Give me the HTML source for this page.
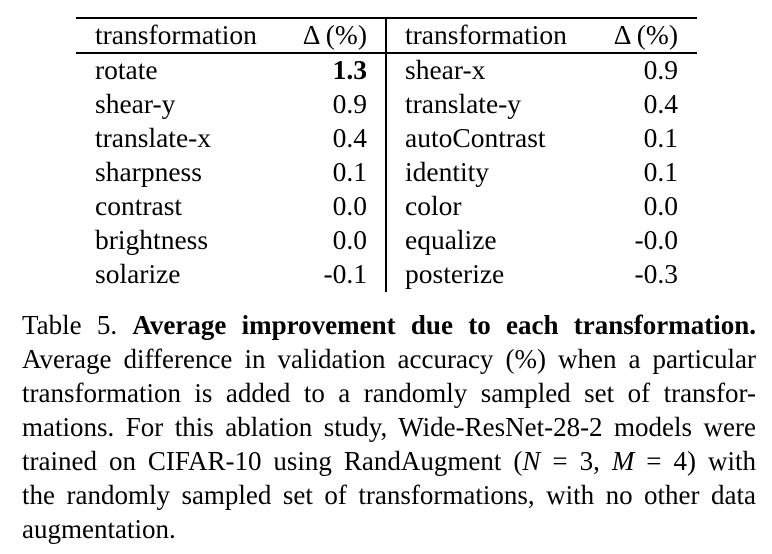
<!DOCTYPE html>
<html><head><meta charset="utf-8"><style>
body{margin:0;width:772px;height:554px;background:#fff;position:relative;font-family:"Liberation Serif","Times New Roman",serif;color:#000;overflow:hidden}
.t{position:absolute;font-size:27.5px;line-height:34px;white-space:nowrap}
.r{text-align:right}
.hl{position:absolute;background:#000;height:2px}
.c{position:absolute;left:22px;width:734px;font-size:27px;line-height:34px;text-align:justify;text-align-last:justify;white-space:nowrap}
.c.l{text-align-last:left}
i{font-style:italic}
</style></head><body>
<div class="hl" style="left:76px;top:17px;width:621px"></div>
<div class="hl" style="left:76px;top:52px;width:621px;height:1.5px"></div>
<div style="position:absolute;left:385px;top:18px;width:1.5px;height:274px;background:#000"></div>

<div class="t" style="left:95px;top:18px">transformation</div>
<div class="t r" style="left:237px;width:130px;top:18px">Δ (%)</div>
<div class="t" style="left:405px;top:18px">transformation</div>
<div class="t r" style="left:548px;width:130px;top:18px">Δ (%)</div>

<div class="t" style="left:95px;top:53px">rotate<br>shear-y<br>translate-x<br>sharpness<br>contrast<br>brightness<br>solarize</div>
<div class="t r" style="left:267px;width:100px;top:53px"><b>1.3</b><br>0.9<br>0.4<br>0.1<br>0.0<br>0.0<br>-0.1</div>
<div class="t" style="left:405px;top:53px">shear-x<br>translate-y<br>autoContrast<br>identity<br>color<br>equalize<br>posterize</div>
<div class="t r" style="left:578px;width:100px;top:53px">0.9<br>0.4<br>0.1<br>0.1<br>0.0<br>-0.0<br>-0.3</div>

<div class="c" style="top:308px">Table 5. <b>Average improvement due to each transformation.</b></div>
<div class="c" style="top:342px">Average difference in validation accuracy (%) when a particular</div>
<div class="c" style="top:376px">transformation is added to a randomly sampled set of transfor-</div>
<div class="c" style="top:410px">mations. For this ablation study, Wide-ResNet-28-2 models were</div>
<div class="c" style="top:444px">trained on CIFAR-10 using RandAugment (<i>N</i> = 3, <i>M</i> = 4) with</div>
<div class="c" style="top:478px">the randomly sampled set of transformations, with no other data</div>
<div class="c l" style="top:512px">augmentation.</div>
</body></html>
